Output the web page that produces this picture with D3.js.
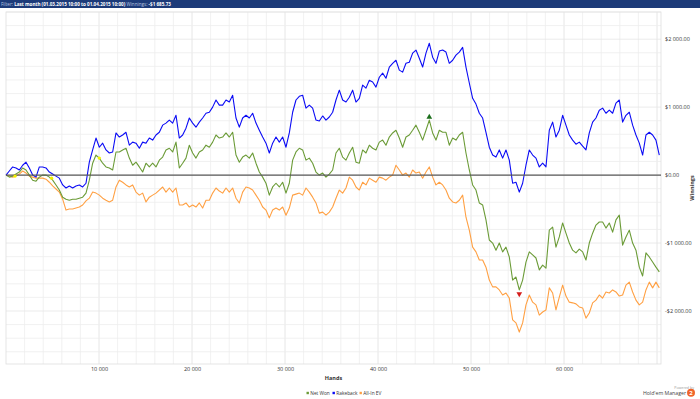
<!DOCTYPE html>
<html>
<head>
<meta charset="utf-8">
<script src="https://cdn.jsdelivr.net/npm/d3@7/dist/d3.min.js"></script>
<style>
  body { margin: 0; background: #fff; }
  svg { display: block; font-family: "Open Sans", "Noto Sans", sans-serif; }
</style>
</head>
<body>
<div id="chart"></div>
<script>
// hands between two samples of the graph
const handStep = 358.4;

const rakeback = [
  0, 60, 120, 105, 75, 145, 190, 105, 0, -30,
  120, 120, 105, 45, 15, -15, -45, -145, -190, -160,
  -190, -160, -145, -175, -120, 190, 370, 545, 410, 470,
  370, 325, 340, 620, 560, 590, 630, 440, 485, 470,
  395, 485, 470, 545, 515, 590, 630, 735, 765, 810,
  765, 880, 545, 590, 690, 840, 765, 705, 780, 840,
  910, 925, 1000, 1105, 1030, 1030, 1105, 1075, 1175, 840,
  705, 840, 880, 840, 910, 765, 660, 560, 470, 325,
  470, 560, 485, 560, 410, 620, 925, 1105, 1160, 1175,
  985, 1030, 985, 810, 795, 870, 810, 855, 925, 1105,
  1250, 1105, 1075, 1145, 1250, 1075, 1130, 1325, 1280, 1395,
  1370, 1295, 1440, 1500, 1425, 1590, 1645, 1690, 1545, 1515,
  1645, 1660, 1795, 1840, 1720, 1590, 1795, 1940, 1735, 1645,
  1825, 1840, 1810, 1645, 1690, 1765, 1810, 1880, 1590, 1355,
  1130, 1045, 910, 840, 630, 410, 295, 265, 370, 250,
  370, 220, -120, -105, -250, -120, 145, 370, 295, 250,
  120, 175, 120, 660, 780, 560, 660, 880, 735, 590,
  515, 455, 485, 425, 370, 620, 780, 840, 955, 985,
  910, 955, 910, 1060, 1105, 780, 880, 925, 735, 590,
  470, 295, 590, 630, 590, 515, 295
];

const netWon = [
  0, -30, -15, 15, 45, 105, 75, 0, -75, -90,
  -30, 0, 0, -30, -75, -145, -220, -325, -355, -370,
  -355, -355, -340, -325, -265, -75, 175, 295, 250, 175,
  120, 105, 75, 340, 340, 370, 395, 250, 145, 190,
  120, 45, 175, 120, 175, 120, 220, 265, 370, 395,
  340, 485, 105, 175, 250, 440, 325, 250, 340, 370,
  440, 410, 485, 590, 545, 560, 620, 560, 630, 295,
  190, 265, 295, 250, 325, 175, 45, -30, -120, -295,
  -175, -120, -175, -105, -265, -120, 220, 340, 395, 370,
  220, 250, 175, 45, 0, 30, -30, 15, 75, 325,
  395, 265, 220, 325, 410, 190, 175, 370, 325, 440,
  395, 370, 485, 515, 440, 560, 620, 660, 545, 410,
  560, 590, 660, 735, 630, 515, 660, 810, 620, 515,
  660, 630, 630, 440, 545, 515, 590, 630, 325, 75,
  -145, -220, -410, -440, -660, -955, -1000, -1105, -1000, -1130,
  -1060, -1205, -1545, -1500, -1690, -1545, -1280, -1130, -1175, -1220,
  -1395, -1325, -1370, -810, -765, -1060, -910, -705, -855, -1000,
  -1105, -1145, -1090, -1130, -1250, -1000, -855, -735, -690, -690,
  -780, -705, -840, -660, -590, -1030, -910, -810, -1000, -1105,
  -1355, -1485, -1145, -1205, -1280, -1355, -1425
];

const allInEv = [
  0, -15, -30, -15, 15, 60, 30, -15, -30, -45,
  -45, -45, -60, -105, -160, -205, -250, -355, -515, -500,
  -500, -485, -470, -440, -380, -340, -250, -265, -295, -340,
  -370, -395, -370, -175, -75, -105, -145, -175, -145, -250,
  -295, -265, -395, -325, -295, -265, -220, -175, -250, -190,
  -250, -190, -440, -440, -410, -470, -440, -470, -410, -485,
  -370, -370, -265, -190, -235, -265, -190, -250, -190, -340,
  -410, -250, -175, -190, -220, -295, -370, -470, -515, -630,
  -515, -485, -515, -470, -590, -485, -295, -280, -265, -295,
  -190, -250, -325, -410, -560, -545, -590, -545, -470, -340,
  -220, -265, -190, -30, -75, -175, -220, -105, -145, -45,
  -75, -105, -30, -45, -75, -30, 0, 145, 75, 0,
  30, -30, 75, 30, 45, -45, 45, 120, -30, -145,
  -105, -145, -220, -340, -395, -410, -370, -295, -620, -810,
  -1060, -1130, -1250, -1250, -1355, -1545, -1645, -1645, -1690, -1765,
  -1735, -1810, -2130, -2175, -2310, -2175, -1910, -1765, -1870, -1910,
  -2060, -2015, -1985, -1660, -1735, -1985, -1795, -1620, -1780, -1870,
  -1880, -1895, -1940, -1955, -2105, -2030, -1880, -1840, -1765, -1810,
  -1720, -1735, -1690, -1720, -1780, -1765, -1620, -1575, -1720, -1840,
  -1910, -1870, -1690, -1575, -1660, -1575, -1660
];

// yellow note markers on the Net Won line
const noteHands = [970, 4900, 10030];
const noteValues = [-15, -45, 250];

const xTicks = [10000, 20000, 30000, 40000, 50000, 60000];
const yTicks = [-2000, -1000, 0, 1000, 2000];
const legendNames = ["Net Won", "Rakeback", "All-In EV"];

const width = 700, height = 399;
const colors = { net: "#6b9b37", rake: "#0b0bf5", ev: "#ffa043" };

const locale = d3.formatLocale({
  decimal: ".", thousands: " ", grouping: [3], currency: ["$", ""], minus: "-"
});
const money = locale.format("$,.2f");
const handsFmt = locale.format(",");

const x = d3.scaleLinear().domain([0, 70430]).range([6, 661]);
const y = d3.scaleLinear().domain([-2780, 2400]).range([364, 12]);

const svg = d3.select("#chart").append("svg")
  .attr("width", width)
  .attr("height", height);

// header bar
svg.append("rect")
  .attr("width", width).attr("height", 8)
  .attr("fill", "#1d3b79");

const header = svg.append("text")
  .attr("x", 1).attr("y", 5.8)
  .attr("font-size", 4.6)
  .attr("fill", "#fff");
header.append("tspan").attr("fill", "#b9c6e0").text("Filter: ");
header.append("tspan").attr("font-weight", "bold").text("Last month (01.03.2015 10:00 to 01.04.2015 10:00) ");
header.append("tspan").attr("fill", "#b9c6e0").text("Winnings: ");
header.append("tspan").attr("font-weight", "bold").text("-$1 685.73");

// grid
const grid = svg.append("g");
grid.selectAll(".vg")
  .data(d3.range(2000, 70001, 2000))
  .enter().append("line")
  .attr("x1", d => x(d)).attr("x2", d => x(d))
  .attr("y1", y.range()[1]).attr("y2", y.range()[0])
  .attr("stroke", d => d % 10000 === 0 ? "#e0e0e0" : "#ededed")
  .attr("stroke-width", 0.8);
grid.selectAll(".hg")
  .data(d3.range(-2600, 2401, 200))
  .enter().append("line")
  .attr("x1", x.range()[0]).attr("x2", x.range()[1])
  .attr("y1", d => y(d)).attr("y2", d => y(d))
  .attr("stroke", d => d % 1000 === 0 ? "#e6e6e6" : "#eeeeee")
  .attr("stroke-width", 0.8);
svg.append("rect")
  .attr("x", x.range()[0]).attr("y", y.range()[1])
  .attr("width", x.range()[1] - x.range()[0])
  .attr("height", y.range()[0] - y.range()[1])
  .attr("fill", "none")
  .attr("stroke", "#dedede")
  .attr("stroke-width", 0.8);

// lines
const line = d3.line()
  .x((d, i) => x(i * handStep))
  .y(d => y(d));

[[allInEv, colors.ev], [netWon, colors.net], [rakeback, colors.rake]].forEach(([s, c]) => {
  svg.append("path")
    .datum(s)
    .attr("d", line)
    .attr("fill", "none")
    .attr("stroke", c)
    .attr("stroke-width", 1.1)
    .attr("stroke-linejoin", "round");
});

// zero line
svg.append("line")
  .attr("x1", x.range()[0]).attr("x2", x.range()[1])
  .attr("y1", y(0)).attr("y2", y(0))
  .attr("stroke", "#5a5a5a")
  .attr("stroke-width", 1.2);

// notes
svg.selectAll(".note")
  .data(noteHands)
  .enter().append("circle")
  .attr("cx", d => x(d))
  .attr("cy", (d, i) => y(noteValues[i]))
  .attr("r", 1.7)
  .attr("fill", "#f2f200");

// max / min of Net Won
const iMax = d3.maxIndex(netWon), iMin = d3.minIndex(netWon);
svg.append("path")
  .attr("d", d3.symbol(d3.symbolTriangle).size(14)())
  .attr("transform", `translate(${x(iMax * handStep)},${y(netWon[iMax]) - 3})`)
  .attr("fill", "#1b6e1b");
svg.append("path")
  .attr("d", d3.symbol(d3.symbolTriangle).size(14)())
  .attr("transform", `translate(${x(iMin * handStep)},${y(netWon[iMin]) + 4}) rotate(180)`)
  .attr("fill", "#d41c1c");

// axes
const yAxis = svg.append("g")
  .attr("transform", `translate(${x.range()[1]},0)`)
  .call(d3.axisRight(y).tickValues(yTicks).tickFormat(money).tickSize(0).tickPadding(4));
const xAxis = svg.append("g")
  .attr("transform", `translate(0,${y.range()[0]})`)
  .call(d3.axisBottom(x).tickValues(xTicks).tickFormat(handsFmt).tickSize(0).tickPadding(3.5));
[yAxis, xAxis].forEach(a => {
  a.select(".domain").remove();
  a.selectAll("text").attr("font-size", 5.5).attr("fill", "#333")
    .attr("font-family", '"Open Sans", sans-serif');
});

svg.append("text")
  .attr("transform", "translate(694,188) rotate(-90)")
  .attr("text-anchor", "middle")
  .attr("font-size", 5.5)
  .attr("font-weight", "bold")
  .attr("fill", "#333")
  .text("Winnings");

svg.append("text")
  .attr("x", (x.range()[0] + x.range()[1]) / 2).attr("y", 380)
  .attr("text-anchor", "middle")
  .attr("font-size", 5.5)
  .attr("font-weight", "bold")
  .attr("fill", "#333")
  .text("Hands");

// legend
const legendX = [306.5, 332.5, 359.5];
const legendColors = [colors.net, colors.rake, colors.ev];
legendNames.forEach((n, i) => {
  svg.append("rect")
    .attr("x", legendX[i]).attr("y", 391.8)
    .attr("width", 2.4).attr("height", 2.4)
    .attr("fill", legendColors[i]);
  svg.append("text")
    .attr("x", legendX[i] + 3.8).attr("y", 394.7)
    .attr("font-size", 4.8)
    .attr("fill", "#333")
    .text(n);
});

// logo
svg.append("text")
  .attr("x", 694).attr("y", 389)
  .attr("text-anchor", "end")
  .attr("font-size", 3.6)
  .attr("fill", "#9a9a9a")
  .text("Powered by");
svg.append("text")
  .attr("x", 686).attr("y", 394.6)
  .attr("text-anchor", "end")
  .attr("font-size", 5.2)
  .attr("fill", "#444")
  .text("Hold'em Manager");
svg.append("circle")
  .attr("cx", 691).attr("cy", 392.7).attr("r", 4)
  .attr("fill", "#f0652a");
svg.append("text")
  .attr("x", 691).attr("y", 394.8)
  .attr("text-anchor", "middle")
  .attr("font-size", 6)
  .attr("font-weight", "bold")
  .attr("fill", "#fff")
  .text("2");
</script>
</body>
</html>
